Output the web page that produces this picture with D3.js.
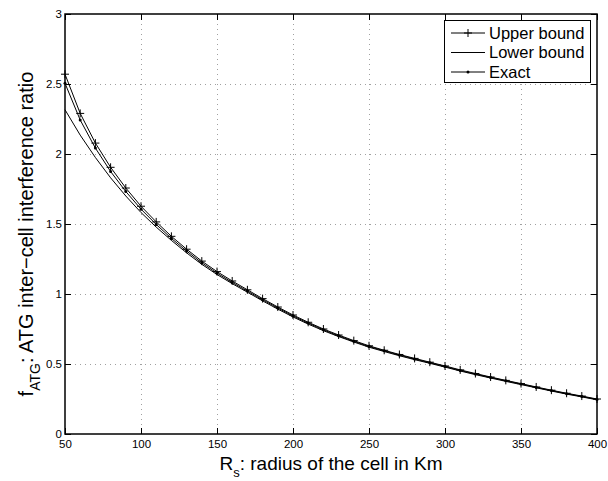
<!DOCTYPE html>
<html>
<head>
<meta charset="utf-8">
<script src="https://cdn.jsdelivr.net/npm/d3@7"></script>
<style>
  body { margin: 0; background: #fff; }
  svg { display: block; font-family: "Liberation Sans", Arial, sans-serif; }
</style>
</head>
<body>
<div id="chart"></div>
<script>
// radius of the cell (km), one point every 10 km
const radius = d3.range(50, 401, 10);

const upperBound = [2.57, 2.29, 2.078, 1.905, 1.757, 1.627, 1.515, 1.412, 1.32, 1.235,
  1.16, 1.093, 1.03, 0.967, 0.907, 0.85, 0.798, 0.75, 0.707, 0.667,
  0.63, 0.598, 0.568, 0.54, 0.513, 0.486, 0.458, 0.432, 0.407, 0.383,
  0.36, 0.336, 0.313, 0.291, 0.271, 0.25];

const lowerBound = [2.316, 2.135, 1.975, 1.83, 1.70, 1.582, 1.478, 1.383, 1.294, 1.212,
  1.139, 1.074, 1.013, 0.951, 0.892, 0.836, 0.785, 0.738, 0.696, 0.657,
  0.62, 0.589, 0.559, 0.531, 0.505, 0.478, 0.45, 0.424, 0.4, 0.376,
  0.353, 0.33, 0.307, 0.285, 0.265, 0.244];

const exact = [2.505, 2.243, 2.042, 1.875, 1.732, 1.606, 1.497, 1.397, 1.307, 1.223,
  1.149, 1.083, 1.021, 0.959, 0.9, 0.843, 0.792, 0.744, 0.701, 0.662,
  0.625, 0.594, 0.564, 0.536, 0.509, 0.482, 0.454, 0.428, 0.404, 0.38,
  0.357, 0.333, 0.31, 0.288, 0.268, 0.247];

const xTicks = [50, 100, 150, 200, 250, 300, 350, 400];
const yTicks = [0, 0.5, 1, 1.5, 2, 2.5, 3];
const legendLabels = ["Upper bound", "Lower bound", "Exact"];

const W = 608, H = 481;
const pLeft = 65, pRight = 597, pTop = 14, pBottom = 434;

const svg = d3.select("#chart").append("svg")
    .attr("width", W)
    .attr("height", H);

const x = d3.scaleLinear().domain([50, 400]).range([pLeft, pRight]);
const y = d3.scaleLinear().domain([0, 3]).range([pBottom, pTop]);

// grid
const grid = svg.append("g")
    .attr("stroke", "#a0a0a0")
    .attr("stroke-width", 1)
    .attr("stroke-dasharray", "1,4");

grid.selectAll(".gx")
    .data(xTicks.slice(1, -1))
    .enter().append("line")
    .attr("x1", d => Math.round(x(d)) + 0.5)
    .attr("x2", d => Math.round(x(d)) + 0.5)
    .attr("y1", pTop)
    .attr("y2", pBottom);

grid.selectAll(".gy")
    .data(yTicks.slice(1, -1))
    .enter().append("line")
    .attr("x1", pLeft)
    .attr("x2", pRight)
    .attr("y1", d => Math.round(y(d)) + 0.5)
    .attr("y2", d => Math.round(y(d)) + 0.5);

// axes, ticks pointing inward like MATLAB
const tickLen = 6;
svg.append("g")
    .attr("transform", `translate(0,${pBottom})`)
    .call(d3.axisBottom(x).tickValues(xTicks).tickSizeInner(-tickLen).tickSizeOuter(0).tickPadding(6).tickFormat(d3.format("d")));
svg.append("g")
    .attr("transform", `translate(0,${pTop})`)
    .call(d3.axisTop(x).tickValues(xTicks).tickSizeInner(-tickLen).tickSizeOuter(0).tickFormat(""));
svg.append("g")
    .attr("transform", `translate(${pLeft},0)`)
    .call(d3.axisLeft(y).tickValues(yTicks).tickSizeInner(-tickLen).tickSizeOuter(0).tickPadding(3).tickFormat(d3.format("")));
svg.append("g")
    .attr("transform", `translate(${pRight},0)`)
    .call(d3.axisRight(y).tickValues(yTicks).tickSizeInner(-tickLen).tickSizeOuter(0).tickFormat(""));

svg.selectAll(".domain").remove();
svg.selectAll(".tick line").attr("stroke", "#000");
svg.selectAll(".tick text")
    .attr("fill", "#000")
    .style("font-size", "11.5px")
    .style("font-family", "'Liberation Sans', Arial, sans-serif");

// box
svg.append("rect")
    .attr("x", pLeft)
    .attr("y", pTop)
    .attr("width", pRight - pLeft)
    .attr("height", pBottom - pTop)
    .attr("fill", "none")
    .attr("stroke", "#000")
    .attr("stroke-width", 1.5);

// curves
const line = d3.line()
    .x((d, i) => x(radius[i]))
    .y(d => y(d));

[upperBound, lowerBound, exact].forEach(s => {
    svg.append("path")
        .datum(s)
        .attr("fill", "none")
        .attr("stroke", "#000")
        .attr("stroke-width", 1)
        .attr("d", line);
});

// '+' markers on upper bound
function plusPath(cx, cy, r) {
    return `M${cx - r},${cy}H${cx + r}M${cx},${cy - r}V${cy + r}`;
}
svg.append("g").selectAll("path")
    .data(upperBound)
    .enter().append("path")
    .attr("d", (d, i) => plusPath(x(radius[i]), y(d), 4))
    .attr("stroke", "#000")
    .attr("stroke-width", 1);

// '.' markers on exact
svg.append("g").selectAll("circle")
    .data(exact)
    .enter().append("circle")
    .attr("cx", (d, i) => x(radius[i]))
    .attr("cy", d => y(d))
    .attr("r", 1.5)
    .attr("fill", "#000");

// legend
const lg = svg.append("g");
lg.append("rect")
    .attr("x", 444.5)
    .attr("y", 20.5)
    .attr("width", 146)
    .attr("height", 62)
    .attr("fill", "#fff")
    .attr("stroke", "#000")
    .attr("stroke-width", 1);

legendLabels.forEach((lab, i) => {
    const cy = 33 + i * 19.5;
    lg.append("line")
        .attr("x1", 451).attr("x2", 485)
        .attr("y1", cy).attr("y2", cy)
        .attr("stroke", "#000");
    if (i === 0) {
        lg.append("path").attr("d", plusPath(468, cy, 4)).attr("stroke", "#000");
    } else if (i === 2) {
        lg.append("circle").attr("cx", 468).attr("cy", cy).attr("r", 1.5).attr("fill", "#000");
    }
    lg.append("text")
        .attr("x", 489)
        .attr("y", cy)
        .attr("dy", "0.35em")
        .style("font-size", "16.5px")
        .text(lab);
});

// x label
const xl = svg.append("text")
    .attr("x", (pLeft + pRight) / 2)
    .attr("y", 470)
    .attr("text-anchor", "middle")
    .style("font-size", "19px");
xl.append("tspan").text("R");
xl.append("tspan").attr("dy", 7).style("font-size", "13px").text("s");
xl.append("tspan").attr("dy", -7).text(": radius of the cell in Km");

// y label
const yl = svg.append("text")
    .attr("transform", `translate(33,234) rotate(-90)`)
    .attr("text-anchor", "middle")
    .style("font-size", "20px");
yl.append("tspan").text("f");
yl.append("tspan").attr("dy", 7).style("font-size", "14px").text("ATG");
yl.append("tspan").attr("dy", -7).text(": ATG inter\u2212cell interference ratio");
</script>
</body>
</html>
